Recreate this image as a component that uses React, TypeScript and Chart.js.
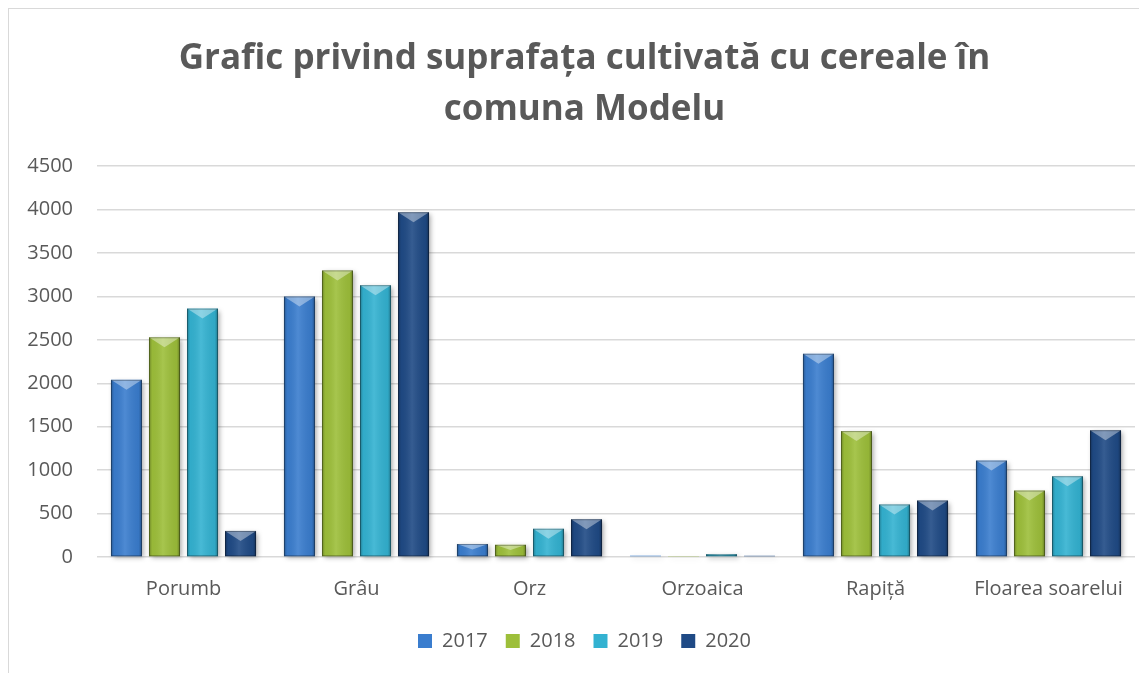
import React, { useEffect, useRef } from "react";
import { Chart, registerables } from "chart.js";

Chart.register(...registerables);

const titleLines = ["Grafic privind suprafața cultivată cu cereale în", "comuna Modelu"];
const categories = ["Porumb", "Grâu", "Orz", "Orzoaica", "Rapiță", "Floarea soarelui"];
const seriesNames = ["2017", "2018", "2019", "2020"];
const values2017 = [2040, 3000, 150, 15, 2340, 1110];
const values2018 = [2530, 3300, 140, 12, 1450, 765];
const values2019 = [2860, 3130, 325, 32, 605, 930];
const values2020 = [300, 3970, 435, 14, 650, 1460];
const seriesColors = ["#3a7dce", "#9dbf3a", "#33b2d1", "#1f4a85"];
const yMin = 0;
const yMax = 4500;
const yStep = 500;

const TEXT = "#595959";
const FONT = "'Open Sans', sans-serif";

const bevelPlugin = {
  id: "bevel",
  beforeDatasetsDraw(chart: any) {
    const ctx = chart.ctx;
    ctx.save();
    ctx.shadowColor = "rgba(0,0,0,0.35)";
    ctx.shadowBlur = 5;
    ctx.shadowOffsetX = 2;
    ctx.shadowOffsetY = 2;
  },
  afterDatasetsDraw(chart: any) {
    const ctx = chart.ctx;
    ctx.restore();
    ctx.save();
    chart.data.datasets.forEach((_ds: any, i: number) => {
      const meta = chart.getDatasetMeta(i);
      if (meta.hidden) return;
      meta.data.forEach((el: any) => {
        const { x, y, base, width } = el.getProps(["x", "y", "base", "width"], true);
        const left = x - width / 2;
        const right = x + width / 2;
        const top = Math.min(y, base);
        const bottom = Math.max(y, base);
        const h = bottom - top;
        if (h < 2) return;
        const g = ctx.createLinearGradient(left, 0, right, 0);
        g.addColorStop(0, "rgba(0,0,0,0.30)");
        g.addColorStop(0.1, "rgba(0,0,0,0.04)");
        g.addColorStop(0.45, "rgba(255,255,255,0.10)");
        g.addColorStop(0.9, "rgba(0,0,0,0.06)");
        g.addColorStop(1, "rgba(0,0,0,0.35)");
        ctx.fillStyle = g;
        ctx.fillRect(left, top, width, h);
        const d = Math.min(10, h * 0.45);
        ctx.beginPath();
        ctx.moveTo(left, top);
        ctx.lineTo(right, top);
        ctx.lineTo(x, top + d);
        ctx.closePath();
        ctx.fillStyle = "rgba(255,255,255,0.38)";
        ctx.fill();
        ctx.strokeStyle = "rgba(0,0,0,0.30)";
        ctx.lineWidth = 1;
        ctx.strokeRect(left + 0.5, top + 0.5, width - 1, h - 1);
      });
    });
    ctx.restore();
  },
};

export default function App() {
  const ref = useRef<HTMLCanvasElement | null>(null);

  useEffect(() => {
    document.documentElement.style.overflow = "hidden";
    const seriesValues = [values2017, values2018, values2019, values2020];
    const chart = new Chart(ref.current as HTMLCanvasElement, {
      type: "bar",
      data: {
        labels: categories,
        datasets: seriesNames.map((name, i) => ({
          label: name,
          data: seriesValues[i],
          backgroundColor: seriesColors[i],
          borderWidth: 0,
          categoryPercentage: 0.879,
          barPercentage: 0.816,
          clip: false as any,
        })),
      },
      options: {
        responsive: false,
        animation: false,
        events: [],
        layout: { padding: { left: 13, right: 0, top: 0, bottom: 12 } },
        plugins: {
          title: {
            display: true,
            text: titleLines,
            color: TEXT,
            font: { family: FONT, size: 35, weight: "bold", lineHeight: 1.46 },
            padding: { top: 24, bottom: 31 },
          },
          legend: {
            display: true,
            position: "bottom",
            labels: {
              boxWidth: 14,
              boxHeight: 14,
              padding: 18,
              color: TEXT,
              font: { family: FONT, size: 20 },
            },
          },
          tooltip: { enabled: false },
        },
        scales: {
          x: {
            grid: { display: false },
            border: { display: false },
            ticks: { color: TEXT, font: { family: FONT, size: 20 }, padding: 12, maxRotation: 0 },
            afterFit: (s: any) => {
              s.height = 56;
            },
          },
          y: {
            min: yMin,
            max: yMax,
            ticks: {
              stepSize: yStep,
              color: TEXT,
              font: { family: FONT, size: 20 },
              padding: 24,
              callback: (v: any) => String(v),
            },
            grid: { color: "#d9d9d9", lineWidth: 1.5, drawTicks: false },
            border: { display: false },
            afterFit: (s: any) => {
              s.width = 75;
            },
          },
          yRight: {
            position: "right",
            grid: { display: false },
            border: { display: false },
            ticks: { display: false },
            afterFit: (s: any) => {
              s.width = 12;
            },
          },
        },
      },
      plugins: [bevelPlugin],
    });
    return () => chart.destroy();
  }, []);

  return (
    <div
      style={{
        width: 1139,
        height: 665,
        borderTop: "1px solid #d9d9d9",
        borderLeft: "1px solid #d9d9d9",
        background: "#fff",
        boxSizing: "border-box",
        overflow: "hidden",
      }}
    >
      <canvas ref={ref} width={1138} height={664} style={{ display: "block" }} />
    </div>
  );
}
